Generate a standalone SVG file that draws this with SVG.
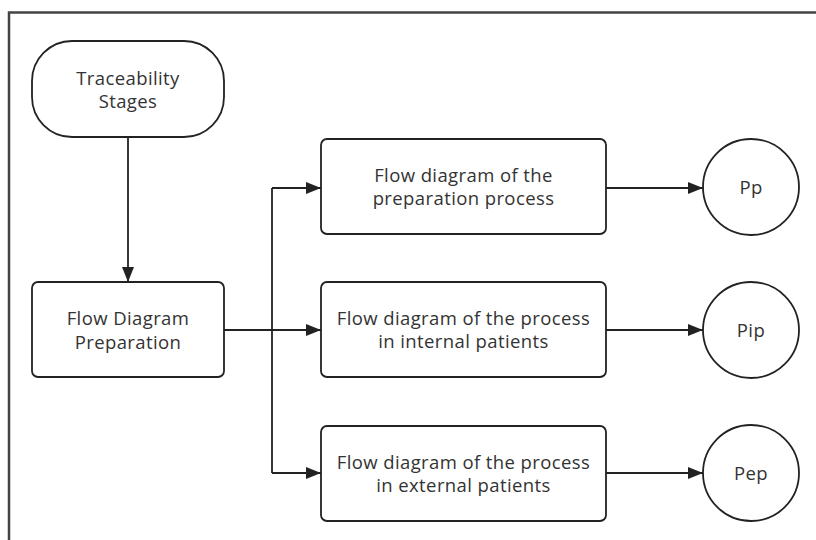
<svg xmlns="http://www.w3.org/2000/svg" width="816" height="540" viewBox="0 0 816 540">
<style>
.box{fill:#fff;stroke:#222;stroke-width:1.8}
.t{font-family:"Open Sans","Noto Sans",sans-serif;font-size:18.5px;letter-spacing:0.4px;fill:#333;text-anchor:middle}
.c{fill:none;stroke:#222;stroke-width:1.8}
</style>
<defs>
<marker id="ah" markerWidth="15" markerHeight="12" refX="15" refY="6" orient="auto" markerUnits="userSpaceOnUse">
<path d="M0,0 L15,6 L0,12 Z" fill="#222"/>
</marker>
</defs>
<rect width="816" height="540" fill="#fff"/>
<g id="frame">
<path d="M9,540 V12.5 H816" fill="none" stroke="#444" stroke-width="2.5"/>
</g>
<g id="connectors">
<path class="c" d="M128,137 V282" marker-end="url(#ah)"/>
<path class="c" d="M224,330 H321" marker-end="url(#ah)"/>
<path class="c" d="M272,188 V473"/>
<path class="c" d="M272,188 H321" marker-end="url(#ah)"/>
<path class="c" d="M272,473 H321" marker-end="url(#ah)"/>
<path class="c" d="M606,188 H703" marker-end="url(#ah)"/>
<path class="c" d="M606,330 H703" marker-end="url(#ah)"/>
<path class="c" d="M606,473 H703" marker-end="url(#ah)"/>
</g>
<g id="traceability">
<rect class="box" x="32" y="41" width="192" height="96" rx="40" ry="40"/>
<text class="t" x="128" y="85">Traceability</text>
<text class="t" x="128" y="108">Stages</text>
</g>
<g id="flowprep">
<rect class="box" x="32" y="282" width="192" height="95" rx="6"/>
<text class="t" x="128" y="325">Flow Diagram</text>
<text class="t" x="128" y="349">Preparation</text>
</g>
<g id="box1">
<rect class="box" x="321" y="139" width="285" height="95" rx="6"/>
<text class="t" x="463.5" y="182">Flow diagram of the</text>
<text class="t" x="463.5" y="205">preparation process</text>
</g>
<g id="box2">
<rect class="box" x="321" y="282" width="285" height="95" rx="6"/>
<text class="t" x="463.5" y="325">Flow diagram of the process</text>
<text class="t" x="463.5" y="348">in internal patients</text>
</g>
<g id="box3">
<rect class="box" x="321" y="426" width="285" height="95" rx="6"/>
<text class="t" x="463.5" y="469">Flow diagram of the process</text>
<text class="t" x="463.5" y="492">in external patients</text>
</g>
<g id="pp">
<circle class="box" cx="751" cy="187" r="48"/>
<text class="t" x="751" y="194">Pp</text>
</g>
<g id="pip">
<circle class="box" cx="751" cy="330" r="48"/>
<text class="t" x="751" y="337">Pip</text>
</g>
<g id="pep">
<circle class="box" cx="751" cy="473" r="48"/>
<text class="t" x="751" y="480">Pep</text>
</g>
</svg>
